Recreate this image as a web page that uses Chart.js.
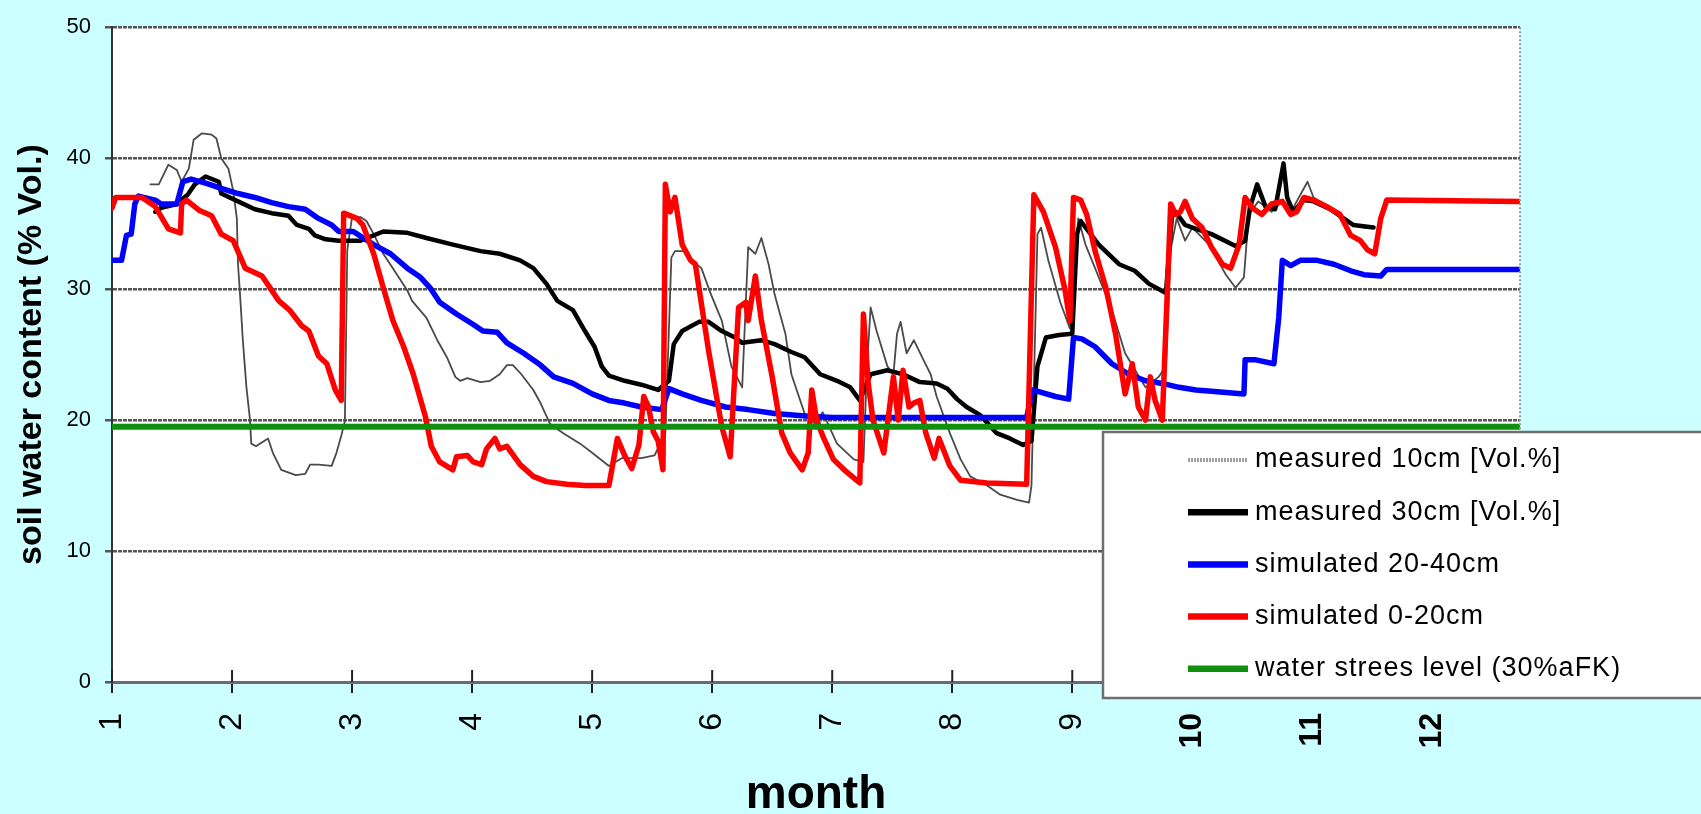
<!DOCTYPE html>
<html>
<head>
<meta charset="utf-8">
<title>soil water content</title>
<script src="https://cdn.jsdelivr.net/npm/chart.js@4.4.1/dist/chart.umd.min.js"></script>
<style>
  html, body { margin: 0; padding: 0; background: #ccffff; }
  #wrap { width: 1701px; height: 814px; position: relative; }
</style>
</head>
<body>
<div id="wrap"><canvas id="soilChart"></canvas></div>
<script>
'use strict';

// ---- Axis ticks ----
const monthTicks = [1, 2, 3, 4, 5, 6, 7, 8, 9, 10, 11, 12];
const valueTicks = [0, 10, 20, 30, 40, 50];
const monthEnd = 12.73;
const stressLevel = 19.5;

// ---- Series: [month, % Vol.] ----
const measured10 = [
  [1.32, 38.0], [1.39, 38.0], [1.47, 39.5], [1.54, 39.1], [1.58, 38.2], [1.64, 39.2],
  [1.68, 41.4], [1.75, 41.9], [1.83, 41.8], [1.87, 41.5], [1.91, 40.0], [1.97, 39.2],
  [2.01, 37.5], [2.04, 35.4], [2.05, 31.9], [2.07, 29.1], [2.09, 26.1], [2.12, 22.5],
  [2.15, 20.0], [2.16, 18.2], [2.20, 18.0], [2.30, 18.6], [2.34, 17.5], [2.41, 16.2],
  [2.53, 15.8], [2.61, 15.9], [2.65, 16.6], [2.72, 16.6], [2.83, 16.5], [2.87, 17.5],
  [2.91, 18.8], [2.94, 19.9], [2.96, 33.0], [3.00, 35.5], [3.07, 35.5], [3.12, 35.2],
  [3.18, 34.2], [3.26, 32.7], [3.34, 31.6], [3.46, 29.9], [3.50, 29.1], [3.62, 27.8],
  [3.71, 26.1], [3.79, 24.8], [3.86, 23.3], [3.90, 23.0], [3.96, 23.2], [4.07, 22.9],
  [4.15, 23.0], [4.23, 23.5], [4.29, 24.2], [4.34, 24.2], [4.41, 23.5], [4.51, 22.3],
  [4.57, 21.3], [4.65, 19.7], [4.76, 19.0], [4.90, 18.2], [5.00, 17.5], [5.14, 16.5],
  [5.25, 17.1], [5.41, 17.1], [5.52, 17.3], [5.61, 19.0], [5.66, 32.4], [5.69, 32.9],
  [5.77, 32.9], [5.83, 32.2], [5.91, 31.6], [5.99, 29.6], [6.08, 27.6], [6.16, 24.1],
  [6.25, 22.5], [6.30, 33.2], [6.36, 32.7], [6.41, 33.9], [6.47, 31.9], [6.52, 29.6],
  [6.61, 26.6], [6.66, 23.5], [6.77, 20.5], [6.86, 19.7], [6.92, 20.6], [7.04, 18.2],
  [7.18, 17.0], [7.26, 16.8], [7.29, 24.1], [7.32, 28.6], [7.37, 26.8], [7.46, 24.1],
  [7.51, 23.5], [7.54, 26.6], [7.57, 27.5], [7.62, 25.1], [7.68, 26.1], [7.76, 24.6],
  [7.82, 23.5], [7.87, 21.8], [7.98, 19.0], [8.07, 17.0], [8.15, 15.7], [8.29, 15.0],
  [8.40, 14.3], [8.54, 13.9], [8.64, 13.7], [8.66, 15.0], [8.71, 34.2], [8.74, 34.7],
  [8.80, 32.2], [8.90, 29.0], [8.98, 27.0], [9.05, 35.4], [9.11, 33.4], [9.19, 31.6],
  [9.33, 28.4], [9.44, 25.1], [9.61, 22.5], [9.72, 23.3], [9.78, 24.1], [9.82, 33.0],
  [9.87, 35.4], [9.94, 33.7], [10.00, 34.7], [10.14, 33.4], [10.28, 31.1], [10.36, 30.1],
  [10.43, 30.9], [10.47, 35.7], [10.55, 36.7], [10.66, 35.9], [10.75, 36.7], [10.84, 36.2],
  [10.96, 38.2], [11.01, 37.0], [11.15, 36.2], [11.29, 35.2], [11.43, 34.7], [11.51, 34.7]
];

const measured30 = [
  [1.36, 35.9], [1.41, 36.2], [1.54, 36.5], [1.63, 37.2], [1.69, 38.0], [1.78, 38.6],
  [1.89, 38.2], [1.91, 37.3], [2.05, 36.7], [2.19, 36.1], [2.33, 35.8], [2.47, 35.6],
  [2.54, 34.9], [2.64, 34.6], [2.69, 34.1], [2.78, 33.8], [2.89, 33.7], [3.07, 33.7],
  [3.26, 34.4], [3.46, 34.3], [3.62, 33.9], [3.84, 33.4], [4.07, 32.9], [4.23, 32.7],
  [4.40, 32.2], [4.51, 31.6], [4.62, 30.4], [4.71, 29.1], [4.84, 28.4], [4.94, 26.8],
  [5.02, 25.6], [5.08, 24.1], [5.14, 23.4], [5.27, 23.0], [5.41, 22.7], [5.55, 22.3],
  [5.64, 23.0], [5.68, 25.8], [5.75, 26.8], [5.89, 27.5], [5.97, 27.5], [6.08, 26.8],
  [6.19, 26.3], [6.25, 25.9], [6.41, 26.1], [6.52, 25.8], [6.66, 25.2], [6.77, 24.8],
  [6.90, 23.5], [7.04, 23.0], [7.15, 22.5], [7.23, 21.5], [7.32, 23.5], [7.46, 23.8],
  [7.59, 23.5], [7.73, 22.9], [7.87, 22.8], [7.96, 22.4], [8.04, 21.6], [8.12, 21.0],
  [8.23, 20.4], [8.37, 19.0], [8.48, 18.6], [8.59, 18.1], [8.66, 18.4], [8.71, 24.1],
  [8.78, 26.3], [8.89, 26.5], [9.00, 26.6], [9.04, 34.2], [9.07, 35.2], [9.12, 34.6],
  [9.22, 33.4], [9.39, 31.9], [9.52, 31.4], [9.64, 30.4], [9.78, 29.7], [9.83, 35.5],
  [9.86, 35.9], [9.94, 34.9], [10.00, 34.7], [10.16, 34.2], [10.36, 33.3], [10.44, 33.7],
  [10.48, 36.2], [10.54, 38.0], [10.61, 36.3], [10.69, 36.1], [10.76, 39.6], [10.79, 37.0],
  [10.84, 35.9], [10.93, 36.8], [11.01, 36.7], [11.15, 36.1], [11.26, 35.4], [11.34, 34.9],
  [11.51, 34.7]
];

const simulated2040 = [
  [1.00, 32.2], [1.08, 32.2], [1.12, 34.1], [1.16, 34.2], [1.19, 36.5], [1.22, 37.1],
  [1.36, 36.8], [1.41, 36.5], [1.54, 36.5], [1.59, 38.2], [1.66, 38.4], [1.78, 38.1],
  [1.91, 37.7], [2.05, 37.3], [2.19, 37.0], [2.33, 36.6], [2.47, 36.3], [2.61, 36.1],
  [2.72, 35.4], [2.83, 34.9], [2.89, 34.4], [3.01, 34.4], [3.18, 33.4], [3.32, 32.7],
  [3.46, 31.6], [3.57, 30.9], [3.65, 30.1], [3.73, 29.0], [3.87, 28.1], [4.01, 27.3],
  [4.09, 26.8], [4.21, 26.7], [4.29, 25.9], [4.43, 25.1], [4.57, 24.2], [4.68, 23.3],
  [4.84, 22.8], [5.00, 22.0], [5.14, 21.5], [5.27, 21.3], [5.41, 21.0], [5.58, 20.8],
  [5.64, 22.4], [5.75, 22.0], [5.91, 21.5], [6.11, 21.0], [6.30, 20.8], [6.52, 20.5],
  [6.80, 20.3], [7.00, 20.2], [8.62, 20.2], [8.67, 22.3], [8.86, 21.8], [8.97, 21.6],
  [9.01, 26.3], [9.08, 26.2], [9.19, 25.6], [9.33, 24.3], [9.47, 23.5], [9.61, 23.0],
  [9.75, 22.8], [9.89, 22.5], [10.03, 22.3], [10.16, 22.2], [10.43, 22.0], [10.44, 24.6],
  [10.53, 24.6], [10.68, 24.3], [10.72, 27.8], [10.75, 32.2], [10.82, 31.8], [10.90, 32.2],
  [11.04, 32.2], [11.18, 31.9], [11.32, 31.4], [11.43, 31.1], [11.57, 31.0], [11.62, 31.5],
  [12.73, 31.5]
];

const simulated020 = [
  [1.00, 36.2], [1.03, 37.0], [1.25, 37.0], [1.36, 36.3], [1.47, 34.6], [1.57, 34.3],
  [1.58, 36.5], [1.62, 36.8], [1.73, 36.0], [1.83, 35.6], [1.91, 34.2], [2.01, 33.7],
  [2.11, 31.6], [2.25, 31.0], [2.39, 29.1], [2.48, 28.4], [2.58, 27.2], [2.64, 26.8],
  [2.72, 24.9], [2.79, 24.3], [2.86, 22.3], [2.91, 21.5], [2.93, 35.8], [3.04, 35.4],
  [3.09, 34.9], [3.18, 32.7], [3.26, 30.1], [3.34, 27.6], [3.43, 25.6], [3.51, 23.5],
  [3.61, 20.3], [3.66, 18.0], [3.73, 16.8], [3.84, 16.2], [3.87, 17.2], [3.96, 17.3],
  [4.01, 16.8], [4.08, 16.6], [4.12, 17.8], [4.19, 18.6], [4.23, 17.8], [4.29, 18.0],
  [4.40, 16.6], [4.51, 15.7], [4.62, 15.3], [4.79, 15.1], [4.94, 15.0], [5.14, 15.0],
  [5.21, 18.6], [5.27, 17.3], [5.33, 16.3], [5.39, 18.1], [5.43, 21.8], [5.47, 21.0],
  [5.51, 19.1], [5.55, 18.4], [5.59, 16.2], [5.61, 38.0], [5.65, 35.9], [5.69, 37.0],
  [5.75, 33.4], [5.82, 32.2], [5.86, 31.9], [5.97, 25.3], [6.08, 19.5], [6.15, 17.2],
  [6.22, 28.6], [6.28, 29.0], [6.30, 27.6], [6.36, 31.0], [6.41, 27.6], [6.50, 23.3],
  [6.58, 19.0], [6.65, 17.5], [6.75, 16.2], [6.80, 17.5], [6.83, 22.3], [6.87, 20.0],
  [6.93, 18.6], [7.01, 17.0], [7.10, 16.2], [7.23, 15.2], [7.26, 28.1], [7.30, 22.8],
  [7.34, 20.0], [7.43, 17.5], [7.51, 23.3], [7.55, 20.0], [7.59, 23.8], [7.64, 21.0],
  [7.68, 21.3], [7.73, 21.5], [7.78, 19.0], [7.85, 17.1], [7.89, 18.6], [7.98, 16.5],
  [8.07, 15.4], [8.29, 15.2], [8.62, 15.1], [8.68, 37.2], [8.76, 35.9], [8.86, 33.2],
  [8.94, 29.9], [8.98, 27.6], [9.01, 37.0], [9.07, 36.8], [9.12, 35.7], [9.19, 32.9],
  [9.28, 30.1], [9.36, 26.6], [9.44, 22.0], [9.50, 24.3], [9.55, 21.0], [9.61, 20.0],
  [9.65, 23.3], [9.69, 21.5], [9.75, 20.0], [9.82, 36.5], [9.86, 35.7], [9.90, 35.9],
  [9.94, 36.7], [10.00, 35.4], [10.08, 34.7], [10.16, 33.2], [10.25, 31.9], [10.32, 31.6],
  [10.39, 33.4], [10.44, 37.0], [10.50, 36.2], [10.58, 35.7], [10.66, 36.5], [10.75, 36.7],
  [10.82, 35.7], [10.87, 35.9], [10.93, 37.0], [11.01, 36.8], [11.12, 36.3], [11.23, 35.7],
  [11.32, 34.1], [11.40, 33.7], [11.46, 33.0], [11.52, 32.7], [11.57, 35.4], [11.62, 36.8],
  [12.73, 36.7]
];

const stressLine = [[1, stressLevel], [monthEnd, stressLevel]];

const FONT = '"Liberation Sans", Arial, sans-serif';
const toPoints = pairs => pairs.map(([x, y]) => ({ x, y }));

// ---- Plot background, borders, legend box ----
const decorations = {
  id: 'decorations',
  beforeDraw(chart) {
    const { ctx, chartArea: a } = chart;
    ctx.save();
    ctx.fillStyle = '#ccffff';
    ctx.fillRect(0, 0, chart.width, chart.height);
    ctx.fillStyle = '#ffffff';
    ctx.fillRect(a.left, a.top, a.right - a.left, a.bottom - a.top);
    ctx.restore();
  },
  afterDraw(chart) {
    const { ctx, chartArea: a, scales } = chart;
    ctx.save();

    // right border of the plot area
    ctx.strokeStyle = '#9a9a9a';
    ctx.lineWidth = 2;
    ctx.setLineDash([2, 2]);
    ctx.beginPath();
    ctx.moveTo(a.right, a.top);
    ctx.lineTo(a.right, a.bottom);
    ctx.stroke();
    ctx.setLineDash([]);

    // inner half of the month ticks
    ctx.strokeStyle = '#222';
    ctx.lineWidth = 2;
    monthTicks.forEach(m => {
      const x = scales.x.getPixelForValue(m);
      ctx.beginPath();
      ctx.moveTo(x, a.bottom - 12);
      ctx.lineTo(x, a.bottom);
      ctx.stroke();
    });

    // legend box, overlapping the lower right of the plot
    const box = { x: 1103, y: 432, w: 700, h: 266 };
    ctx.fillStyle = '#ffffff';
    ctx.fillRect(box.x, box.y, box.w, box.h);
    ctx.strokeStyle = '#6e6e6e';
    ctx.lineWidth = 2.5;
    ctx.strokeRect(box.x, box.y, box.w, box.h);

    ctx.font = '27px ' + FONT;
    ctx.textBaseline = 'middle';
    ctx.textAlign = 'left';
    if ('letterSpacing' in ctx) ctx.letterSpacing = '1px';
    chart.data.datasets.forEach((ds, i) => {
      const y = 460 + i * 52.2;
      ctx.strokeStyle = i === 0 ? '#a0a0a0' : ds.borderColor;
      ctx.lineWidth = i === 0 ? 4 : 6.5;
      ctx.setLineDash(i === 0 ? [2, 1] : []);
      ctx.beginPath();
      ctx.moveTo(1188, y);
      ctx.lineTo(1248, y);
      ctx.stroke();
      ctx.setLineDash([]);
      ctx.fillStyle = '#000';
      ctx.fillText(ds.label, 1255, y);
    });
    ctx.restore();
  }
};

const lineDefaults = { pointRadius: 0, tension: 0, fill: false, borderJoinStyle: 'round', borderCapStyle: 'round' };

new Chart(document.getElementById('soilChart'), {
  type: 'line',
  data: {
    datasets: [
      { ...lineDefaults, label: 'measured 10cm [Vol.%]', data: toPoints(measured10), borderColor: '#4a4a4a', borderWidth: 1.8, order: 5 },
      { ...lineDefaults, label: 'measured 30cm [Vol.%]', data: toPoints(measured30), borderColor: '#000000', borderWidth: 4.5, order: 4 },
      { ...lineDefaults, label: 'simulated 20-40cm', data: toPoints(simulated2040), borderColor: '#0000ff', borderWidth: 5.5, order: 3 },
      { ...lineDefaults, label: 'simulated 0-20cm', data: toPoints(simulated020), borderColor: '#ff0000', borderWidth: 5.5, order: 2 },
      { ...lineDefaults, label: 'water strees level (30%aFK)', data: toPoints(stressLine), borderColor: '#0f900f', borderWidth: 6, order: 1 }
    ]
  },
  options: {
    animation: false,
    responsive: true,
    maintainAspectRatio: false,
    layout: { padding: { left: 0, top: 23, right: 181, bottom: 0 } },
    plugins: { legend: { display: false }, tooltip: { enabled: false } },
    scales: {
      x: {
        type: 'linear',
        min: 1,
        max: monthEnd,
        afterBuildTicks: s => { s.ticks = monthTicks.map(v => ({ value: v })); },
        afterFit: s => { s.height = 132; },
        grid: { drawOnChartArea: false, color: '#222', lineWidth: 2, tickLength: 11 },
        border: { color: '#6b6b6b', width: 3 },
        ticks: {
          minRotation: 90,
          maxRotation: 90,
          padding: 20,
          color: '#000',
          font: c => ({ family: FONT, size: 32, weight: c.tick && c.tick.value >= 10 ? 'bold' : 'normal' })
        },
        title: {
          display: true,
          text: 'month',
          color: '#000',
          font: { family: FONT, size: 46, weight: 'bold', lineHeight: 1 },
          padding: { top: 0, bottom: -4 }
        }
      },
      y: {
        min: 0,
        max: 50,
        afterBuildTicks: s => { s.ticks = valueTicks.map(v => ({ value: v })); },
        afterFit: s => { s.width = 112; },
        grid: { color: '#555555', lineWidth: 2.5, tickLength: 7 },
        border: { color: '#333', width: 2, dash: [4, 1] },
        ticks: { padding: 14, color: '#000', font: { family: FONT, size: 22 } },
        title: {
          display: true,
          text: 'soil water content (% Vol.)',
          color: '#000',
          font: { family: FONT, size: 34, weight: 'bold', lineHeight: 1 },
          padding: { top: 15, bottom: 0 }
        }
      }
    }
  },
  plugins: [decorations]
});
</script>
</body>
</html>
